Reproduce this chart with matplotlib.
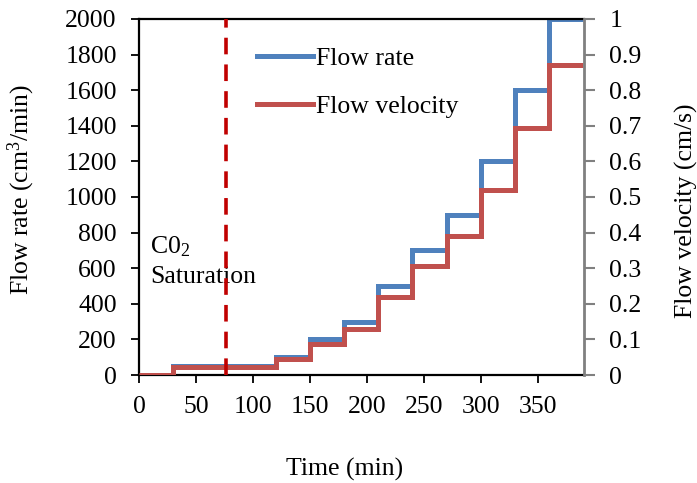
import matplotlib
matplotlib.use("Agg")
import matplotlib.pyplot as plt
from matplotlib.lines import Line2D

plt.rcParams['font.family'] = ['Liberation Serif', 'DejaVu Serif']
plt.rcParams['mathtext.fontset'] = 'custom'
plt.rcParams['mathtext.rm'] = 'Liberation Serif'
plt.rcParams['mathtext.it'] = 'Liberation Serif:italic'

# Data
time_edges = [0, 30, 60, 90, 120, 150, 180, 210, 240, 270, 300, 330, 360, 390]
flow_rate = [0, 50, 50, 50, 100, 200, 300, 500, 700, 900, 1200, 1600, 2000]
flow_velocity = [0, 0.022, 0.022, 0.022, 0.044, 0.087, 0.13, 0.218, 0.305, 0.39, 0.52, 0.695, 0.87]
saturation_time = 76.5
x_ticks = [0, 50, 100, 150, 200, 250, 300, 350]
left_ticks = list(range(0, 2001, 200))
right_ticks = [0, 0.1, 0.2, 0.3, 0.4, 0.5, 0.6, 0.7, 0.8, 0.9, 1]
right_labels = ['0', '0.1', '0.2', '0.3', '0.4', '0.5', '0.6', '0.7', '0.8', '0.9', '1']

BLUE = '#4F81BD'
RED = '#C0504D'
DARKRED = '#C00000'
FS = 18.5
LW = 3.6

fig = plt.figure(figsize=(6.97, 4.83), dpi=100)
ax = fig.add_axes([0.1994, 0.2236, 0.6390, 0.7371])
ax2 = ax.twinx()

ax.stairs(flow_rate, time_edges, baseline=None, color=BLUE, lw=LW)
ax2.stairs(flow_velocity, time_edges, baseline=None, color=RED, lw=LW)

ax2.axvline(saturation_time, color=DARKRED, lw=2.6, dashes=(4.6, 2.8))

ax.set_xlim(0, 391)
ax.set_ylim(0, 2000)
ax2.set_ylim(0, 1)
ax.set_xticks(x_ticks)
ax.set_yticks(left_ticks)
ax2.set_yticks(right_ticks)
ax2.set_yticklabels(right_labels)

for a in (ax, ax2):
    a.tick_params(labelsize=FS, direction='out', length=6, width=1.3)
ax.tick_params(axis='x', pad=9)
ax.tick_params(axis='y', pad=10)
ax2.tick_params(axis='y', colors='#808080', labelcolor='black', width=1.5,
                length=8, pad=10)

for s in ['left', 'bottom', 'top']:
    ax.spines[s].set_linewidth(1.6)
    ax.spines[s].set_color('black')
ax2.spines['right'].set_color('#808080')
ax2.spines['right'].set_linewidth(2.0)
ax2.spines['left'].set_visible(False)
ax2.spines['bottom'].set_visible(False)
ax2.spines['top'].set_visible(False)
ax.spines['right'].set_visible(False)

ax.set_xlabel('Time (min)', fontsize=FS, va='center')
ax.xaxis.set_label_coords(0.461, -0.264)
ax.set_ylabel('Flow rate (cm$^3$/min)', fontsize=FS, va='center')
ax.yaxis.set_label_coords(-0.265, 0.52)
ax2.set_ylabel('Flow velocity (cm/s)', fontsize=FS, va='center')
ax2.yaxis.set_label_coords(1.229, 0.46)

ax.text(9.7, 685, 'C0$_2$', fontsize=FS, va='baseline', ha='left', zorder=1)
ax.text(9.7, 517, 'Saturation', fontsize=FS, va='baseline', ha='left', zorder=1)

handles = [Line2D([], [], color=BLUE, lw=LW), Line2D([], [], color=RED, lw=LW)]
ax2.legend(handles, ['Flow rate', 'Flow velocity'], loc='upper left',
           bbox_to_anchor=(0.265, 0.922), frameon=False, fontsize=FS,
           handlelength=2.18, handletextpad=0.1, labelspacing=1.0,
           borderpad=0, borderaxespad=0)

fig.savefig('out.png', dpi=100)
